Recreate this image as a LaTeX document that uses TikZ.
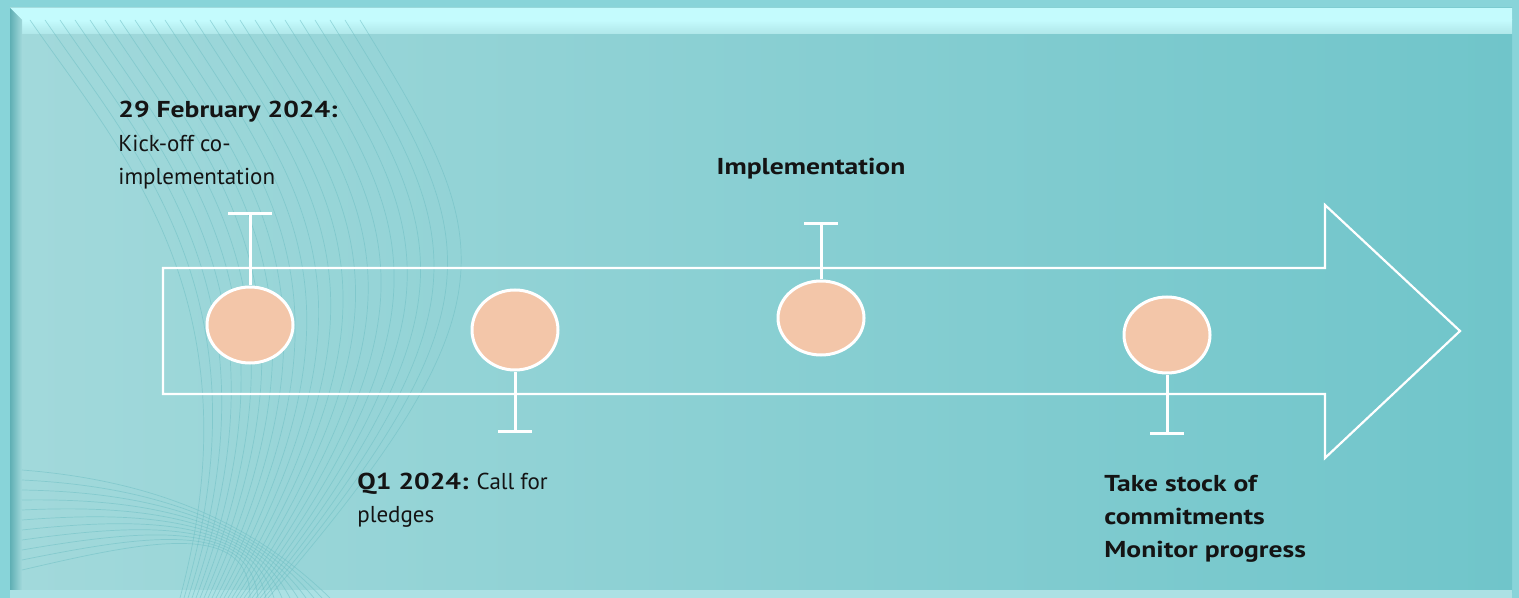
\documentclass[tikz,border=0pt]{standalone}
\usepackage{fontspec}
\setmainfont{PT Sans}[BoldFeatures={FakeStretch=1.2}]
\usetikzlibrary{shapes.geometric}
\definecolor{outerc}{HTML}{88D4D9}
\definecolor{panelL}{HTML}{A2D9DB}
\definecolor{panelR}{HTML}{70C5CA}
\definecolor{edgetop}{HTML}{C4FBFD}
\definecolor{edgeleft}{HTML}{5FAFB4}
\definecolor{peach}{HTML}{F3C6A9}
\definecolor{ink}{HTML}{141414}
\definecolor{wave}{HTML}{6FBFC4}
\tikzset{
  x=0.5pt, y=-0.5pt,
  milestone/.style={ellipse, draw=white, line width=1.5pt, fill=peach, minimum width=43pt, minimum height=38pt, inner sep=0pt},
  stem/.style={draw=white, line width=1.5pt},
  arrowline/.style={draw=white, line width=1.1pt, line join=miter},
  lbl/.style={inner sep=0pt, align=left, text=ink, font=\fontsize{11.5}{16.5}\selectfont},
}
\begin{document}
\begin{tikzpicture}
\useasboundingbox (0,0) rectangle (1519,598);
% background and frame
\fill[outerc] (0,0) rectangle (1519,598);
\shade[left color=panelL, right color=panelR] (10,8) rectangle (1512,592);
\shade[top color=edgetop, bottom color=panelL!60!edgetop] (22,20) rectangle (1512,34);
\fill[edgetop] (10,8) -- (1512,8) -- (1512,20) -- (22,20) -- cycle;
\shade[left color=edgeleft, right color=panelL] (10,8) -- (22,20) -- (22,592) -- (10,592) -- cycle;
\fill[outerc!70!white] (10,590) rectangle (1512,598);
% decorative waves
\begin{scope}[draw=wave, line width=0.35pt, opacity=0.55]
\foreach \i in {0,...,22} {
  \draw (30+15*\i,20) .. controls (120+17*\i,150+4*\i) and (260+12*\i,300) .. (180+4*\i,598);
}
\foreach \i in {0,...,10} {
  \draw (22,470+10*\i) .. controls (150,480+6*\i) and (250,520) .. (330-8*\i,598);
}
\end{scope}
% arrow outline
\draw[arrowline] (163,268) -- (1325,268) -- (1325,205) -- (1460,331) -- (1325,458) -- (1325,394) -- (163,394) -- cycle;
% milestones
\node[milestone] (m1) at (250,325) {};
\node[milestone, minimum height=40pt] (m2) at (515,330) {};
\node[milestone, minimum height=37pt] (m3) at (821,318) {};
\node[milestone] (m4) at (1167,335) {};
% stems
\coordinate (t1) at (250,214);
\coordinate (t2) at (515,431);
\coordinate (t3) at (821,224);
\coordinate (t4) at (1167,433);
\draw[stem] (m1.north) -- (t1);
\draw[stem] ([xshift=-11pt]t1) -- ([xshift=11pt]t1);
\draw[stem] (m2.south) -- (t2);
\draw[stem] ([xshift=-8.5pt]t2) -- ([xshift=8.5pt]t2);
\draw[stem] (m3.north) -- (t3);
\draw[stem] ([xshift=-8.5pt]t3) -- ([xshift=8.5pt]t3);
\draw[stem] (m4.south) -- (t4);
\draw[stem] ([xshift=-8.5pt]t4) -- ([xshift=8.5pt]t4);
% labels
\node[lbl, anchor=north west, font=\fontsize{11.5}{16.7}\selectfont] (l1) at (118,101) {\textbf{29 February 2024:}\\Kick-off co-\\implementation};
\node[lbl, anchor=north] (l3) at (811,158) {\textbf{Implementation}};
\node[lbl, anchor=north west] (l2) at (357,473) {\textbf{Q1 2024:} Call for\\pledges};
\node[lbl, anchor=north west] (l4) at (1104,475) {\textbf{Take stock of}\\\textbf{commitments}\\\textbf{Monitor progress}};
\end{tikzpicture}
\end{document}
